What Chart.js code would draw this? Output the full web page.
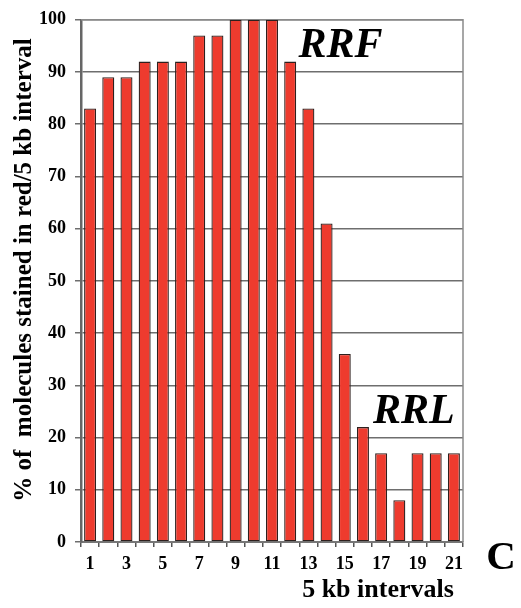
<!DOCTYPE html>
<html>
<head>
<meta charset="utf-8">
<script src="https://cdn.jsdelivr.net/npm/chart.js@4/dist/chart.umd.min.js"></script>
<style>
html,body{margin:0;padding:0;background:#fff;}
#wrap{width:521px;height:608px;position:relative;}
</style>
</head>
<body>
<div id="wrap"><canvas id="c" width="521" height="608"></canvas></div>
<script>
const categories = ["1","2","3","4","5","6","7","8","9","10","11","12","13","14","15","16","17","18","19","20","21"];
const percentRed = [83,89,89,92,92,92,97,97,100,100,100,92,83,61,36,22,17,8,17,17,17];
const yTicks = [0,10,20,30,40,50,60,70,80,90,100];
const yTitle = "% of  molecules stained in red/5 kb interval";
const xTitle = "5 kb intervals";
const labelRRF = "RRF";
const labelRRL = "RRL";
const panelLetter = "C";

const SERIF = "'Liberation Serif','DejaVu Serif',serif";

const textPlugin = {
  id: 'texts',
  beforeDatasetsDraw(chart) {
    const {ctx, chartArea} = chart;
    ctx.save();
    ctx.strokeStyle = '#8a8a8a';
    ctx.lineWidth = 1.5;
    ctx.beginPath();
    ctx.moveTo(chartArea.left, chartArea.top);
    ctx.lineTo(chartArea.right, chartArea.top);
    ctx.lineTo(chartArea.right, chartArea.bottom);
    ctx.stroke();
    ctx.restore();
  },
  afterDraw(chart) {
    const {ctx, chartArea, scales} = chart;
    const x = scales.x, y = scales.y;
    ctx.save();
    ctx.fillStyle = '#000';
    // y title
    ctx.save();
    ctx.translate(25, 270);
    ctx.rotate(-Math.PI/2);
    ctx.font = "bold 25px " + SERIF;
    ctx.textAlign = 'center';
    ctx.textBaseline = 'middle';
    ctx.fillText(yTitle, 0, 0);
    ctx.restore();
    // x title
    ctx.font = "bold 26px " + SERIF;
    ctx.textAlign = 'center';
    ctx.textBaseline = 'alphabetic';
    ctx.fillText(xTitle, chartArea.right - 85, 597);
    // RRF / RRL
    ctx.font = "italic bold 42px " + SERIF;
    ctx.textAlign = 'left';
    ctx.fillText(labelRRF, x.getPixelForValue(11.45), y.getPixelForValue(92.8));
    ctx.fillText(labelRRL, x.getPixelForValue(15.55), y.getPixelForValue(22.7));
    // panel letter
    ctx.font = "bold 41px " + SERIF;
    ctx.textAlign = 'center';
    ctx.fillText(panelLetter, 501, 569);
    ctx.restore();
  }
};

new Chart(document.getElementById('c'), {
  type: 'bar',
  data: {
    labels: categories,
    datasets: [{
      data: percentRed,
      backgroundColor: '#ee3b2e',
      borderColor: '#2e201e',
      borderWidth: 1.3,
      borderSkipped: false,
      categoryPercentage: 1.0,
      barPercentage: 0.66
    }]
  },
  plugins: [textPlugin],
  options: {
    responsive: false,
    animation: false,
    devicePixelRatio: 1,
    layout: { padding: { left: 0, right: 58, top: 18, bottom: 0 } },
    plugins: { legend: { display: false }, tooltip: { enabled: false } },
    scales: {
      x: {
        grid: { offset: true, drawOnChartArea: false, display: true, tickLength: 5, color: '#555', lineWidth: 1.5 },
        border: { display: true, color: '#777', width: 2 },
        ticks: {
          autoSkip: false, maxRotation: 0, padding: 7, color: '#000',
          font: { family: SERIF, size: 18, weight: 'bold' },
          callback: (v, i) => (i % 2 === 0 ? categories[i] : '')
        },
        afterFit: (s) => { s.height = 66; }
      },
      y: {
        min: 0, max: 100,
        afterBuildTicks: (s) => { s.ticks = yTicks.map(v => ({value: v})); },
        grid: { color: '#6e6e6e', lineWidth: 1.5, tickLength: 6 },
        border: { display: true, color: '#666', width: 2.5 },
        ticks: {
          padding: 9, color: '#000',
          font: { family: SERIF, size: 18, weight: 'bold' }
        },
        afterFit: (s) => { s.width = 81; }
      }
    }
  }
});
</script>
</body>
</html>
